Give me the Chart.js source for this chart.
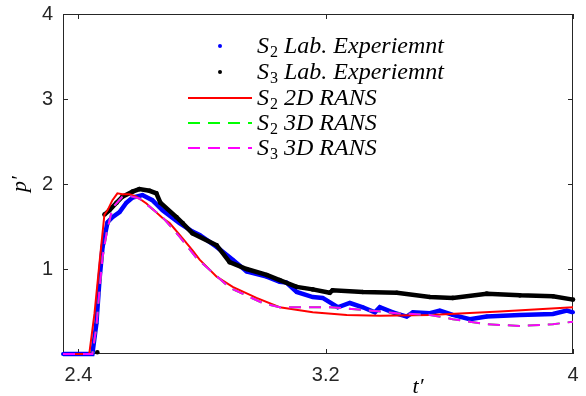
<!DOCTYPE html>
<html>
<head>
<meta charset="utf-8">
<script src="https://cdn.jsdelivr.net/npm/chart.js@4"></script>
<style>
  html, body { margin: 0; padding: 0; background: #fff; }
</style>
</head>
<body>
<canvas id="myChart" width="586" height="396"></canvas>
<script>
// values
const s2ExpT = [2.35, 2.445, 2.458, 2.468, 2.478, 2.494, 2.510, 2.533, 2.555, 2.575, 2.607, 2.639, 2.672, 2.727, 2.769, 2.792, 2.847, 2.899, 2.944, 3.009, 3.051, 3.073, 3.106, 3.158, 3.190, 3.239, 3.278, 3.320, 3.359, 3.375, 3.417, 3.462, 3.482, 3.537, 3.569, 3.611, 3.666, 3.721, 3.828, 3.935, 3.980, 4.0];
const s2ExpP = [0, 0, 0.36, 0.87, 1.26, 1.55, 1.61, 1.67, 1.78, 1.84, 1.87, 1.81, 1.69, 1.54, 1.44, 1.40, 1.26, 1.11, 0.97, 0.91, 0.85, 0.84, 0.73, 0.67, 0.66, 0.55, 0.60, 0.55, 0.49, 0.55, 0.49, 0.44, 0.49, 0.48, 0.51, 0.46, 0.41, 0.44, 0.46, 0.47, 0.51, 0.49];

const s3ExpT = [2.461, 2.47, 2.484, 2.500, 2.523, 2.542, 2.575, 2.597, 2.630, 2.652, 2.665, 2.717, 2.737, 2.769, 2.847, 2.889, 2.944, 3.009, 3.051, 3.106, 3.158, 3.213, 3.222, 3.320, 3.430, 3.537, 3.611, 3.721, 3.828, 3.935, 4.0];
const s3ExpP = [0.02, null, 1.64, 1.69, 1.78, 1.85, 1.91, 1.94, 1.92, 1.89, 1.78, 1.61, 1.54, 1.42, 1.28, 1.08, 1.00, 0.93, 0.87, 0.79, 0.76, 0.72, 0.75, 0.73, 0.72, 0.67, 0.66, 0.71, 0.69, 0.68, 0.64];

const s2Rans2dT = [2.35, 2.435, 2.452, 2.468, 2.484, 2.494, 2.510, 2.526, 2.542, 2.565, 2.588, 2.620, 2.672, 2.695, 2.737, 2.769, 2.792, 2.847, 2.899, 2.976, 3.051, 3.158, 3.268, 3.375, 3.537, 3.763, 4.0];
const s2Rans2dP = [0, 0, 0.48, 1.07, 1.64, 1.69, 1.81, 1.89, 1.88, 1.88, 1.85, 1.77, 1.60, 1.54, 1.36, 1.22, 1.11, 0.91, 0.79, 0.66, 0.55, 0.49, 0.46, 0.45, 0.46, 0.50, 0.55];

const s2Rans3dT = [2.35, 2.445, 2.458, 2.468, 2.478, 2.491, 2.510, 2.542, 2.565, 2.597, 2.672, 2.727, 2.782, 2.889, 2.954, 2.996, 3.051, 3.106, 3.213, 3.320, 3.430, 3.537, 3.611, 3.721, 3.828, 3.935, 4.0];
const s2Rans3dP = [0, 0, 0.32, 0.75, 1.14, 1.42, 1.72, 1.85, 1.86, 1.83, 1.61, 1.38, 1.13, 0.78, 0.67, 0.60, 0.55, 0.55, 0.55, 0.52, 0.48, 0.46, 0.41, 0.35, 0.33, 0.35, 0.38];

const s3Rans3dT = [2.35, 2.445, 2.458, 2.468, 2.478, 2.491, 2.510, 2.542, 2.565, 2.597, 2.672, 2.727, 2.782, 2.889, 2.954, 2.996, 3.051, 3.106, 3.213, 3.320, 3.430, 3.537, 3.611, 3.721, 3.828, 3.935, 4.0];
const s3Rans3dP = [0, 0, 0.32, 0.75, 1.14, 1.42, 1.72, 1.85, 1.86, 1.83, 1.61, 1.38, 1.13, 0.78, 0.67, 0.60, 0.55, 0.55, 0.55, 0.52, 0.48, 0.46, 0.41, 0.35, 0.33, 0.35, 0.38];

const xTickVals = [2.4, 3.2, 4];
const yTickVals = [1, 2, 3, 4];
const legendNames = ["S_2 Lab. Experiemnt", "S_3 Lab. Experiemnt", "S_2 2D RANS", "S_2 3D RANS", "S_3 3D RANS"];

const axisColor = "#262626";
const serif = "'Liberation Serif', 'Times New Roman', serif";

function pts(T, P) {
  return T.map((t, i) => ({ x: t, y: P[i] }));
}

// box with inward tick marks, drawn under the data like matlab does with lines on the edge
const framePlugin = {
  id: "frame",
  beforeDatasetsDraw(chart) {
    const { ctx, chartArea: a, scales } = chart;
    ctx.save();
    ctx.strokeStyle = axisColor;
    ctx.lineWidth = 1;
    ctx.strokeRect(a.left + 0.5, a.top + 0.5, a.right - a.left - 1, a.bottom - a.top - 1);
    ctx.beginPath();
    xTickVals.forEach(v => {
      let px = Math.round(scales.x.getPixelForValue(v)) + 0.5;
      ctx.moveTo(px, a.bottom); ctx.lineTo(px, a.bottom - 5);
      ctx.moveTo(px, a.top); ctx.lineTo(px, a.top + 5);
    });
    yTickVals.forEach(v => {
      let py = Math.round(scales.y.getPixelForValue(v)) + 0.5;
      ctx.moveTo(a.left, py); ctx.lineTo(a.left + 5, py);
      ctx.moveTo(a.right, py); ctx.lineTo(a.right - 5, py);
    });
    ctx.stroke();
    ctx.restore();
  },
  afterDraw(chart) {
    const ctx = chart.ctx;
    ctx.save();
    ctx.fillStyle = "#000";
    ctx.textBaseline = "middle";
    // axis titles
    ctx.font = "italic 22px " + serif;
    ctx.save();
    ctx.translate(20, 184);
    ctx.rotate(-Math.PI / 2);
    ctx.textAlign = "center";
    ctx.fillText("p\u2032", 0, 0);
    ctx.restore();
    ctx.textAlign = "center";
    ctx.fillText("t\u2032", 418, 387);

    // legend
    const styles = [
      { type: "dot", color: "#0000ff" },
      { type: "dot", color: "#000000" },
      { type: "line", color: "#ff0000", dash: [] },
      { type: "line", color: "#00ff00", dash: [12, 8] },
      { type: "line", color: "#ff00ff", dash: [12, 8] }
    ];
    const rowY = [46, 72, 98, 123, 148];
    ctx.textAlign = "left";
    ctx.textBaseline = "alphabetic";
    legendNames.forEach((name, i) => {
      const st = styles[i];
      const cy = rowY[i];
      if (st.type === "dot") {
        ctx.fillStyle = st.color;
        ctx.beginPath();
        ctx.arc(220, cy, 2, 0, Math.PI * 2);
        ctx.fill();
      } else {
        ctx.strokeStyle = st.color;
        ctx.lineWidth = 2;
        ctx.setLineDash(st.dash);
        ctx.beginPath();
        ctx.moveTo(188, cy);
        ctx.lineTo(252, cy);
        ctx.stroke();
        ctx.setLineDash([]);
      }
      const base = name.split("_")[0];
      const sub = name.split("_")[1][0];
      const rest = name.split("_")[1].slice(1);
      let x = 257;
      const by = cy + 7;
      ctx.fillStyle = "#000";
      ctx.font = "italic 24px " + serif;
      ctx.fillText(base, x, by);
      x += ctx.measureText(base).width + 1;
      ctx.font = "16px " + serif;
      ctx.fillText(sub, x, by + 4);
      x += ctx.measureText(sub).width;
      ctx.font = "italic 24px " + serif;
      ctx.fillText(rest, x, by);
    });
    ctx.restore();
  }
};

const ctx = document.getElementById("myChart");
new Chart(ctx, {
  type: "line",
  data: {
    datasets: [
      {
        label: legendNames[0],
        data: pts(s2ExpT, s2ExpP),
        borderColor: "#0000ff",
        backgroundColor: "#0000ff",
        borderWidth: 4.5,
        pointRadius: 2,
        pointBorderWidth: 0,
        order: 5,
        clip: false
      },
      {
        label: legendNames[1],
        data: pts(s3ExpT, s3ExpP),
        borderColor: "#000000",
        backgroundColor: "#000000",
        borderWidth: 4.5,
        pointRadius: 2.3,
        pointBorderWidth: 0,
        order: 4,
        clip: false
      },
      {
        label: legendNames[2],
        data: pts(s2Rans2dT, s2Rans2dP),
        borderColor: "#ff0000",
        borderWidth: 2,
        pointRadius: 0,
        order: 3,
        clip: false
      },
      {
        label: legendNames[3],
        data: pts(s2Rans3dT, s2Rans3dP),
        borderColor: "#00ff00",
        borderWidth: 2,
        borderDash: [12, 8],
        pointRadius: 0,
        order: 2,
        clip: false
      },
      {
        label: legendNames[4],
        data: pts(s3Rans3dT, s3Rans3dP),
        borderColor: "#ff00ff",
        borderWidth: 2,
        borderDash: [12, 8],
        pointRadius: 0,
        order: 1,
        clip: false
      }
    ]
  },
  options: {
    responsive: false,
    animation: false,
    spanGaps: false,
    layout: { padding: { left: 0, right: 13, top: 14, bottom: 0 } },
    plugins: {
      legend: { display: false },
      tooltip: { enabled: false }
    },
    scales: {
      x: {
        type: "linear",
        min: 2.35,
        max: 4,
        afterBuildTicks: s => { s.ticks = xTickVals.map(v => ({ value: v })); },
        afterFit: s => { s.height = 42; s.paddingLeft = 0; s.paddingRight = 0; },
        grid: { display: false, drawTicks: false },
        border: { display: false },
        ticks: {
          color: axisColor,
          padding: 9,
          maxRotation: 0,
          autoSkip: false,
          font: { family: "'Liberation Sans', Arial, sans-serif", size: 20 },
          callback: v => String(v)
        }
      },
      y: {
        min: 0,
        max: 4,
        afterBuildTicks: s => { s.ticks = yTickVals.map(v => ({ value: v })); },
        afterFit: s => { s.width = 63; s.paddingTop = 0; s.paddingBottom = 0; },
        grid: { display: false, drawTicks: false },
        border: { display: false },
        ticks: {
          color: axisColor,
          padding: 10,
          font: { family: "'Liberation Sans', Arial, sans-serif", size: 20 },
          callback: v => String(v)
        }
      }
    }
  },
  plugins: [framePlugin]
});
</script>
</body>
</html>
